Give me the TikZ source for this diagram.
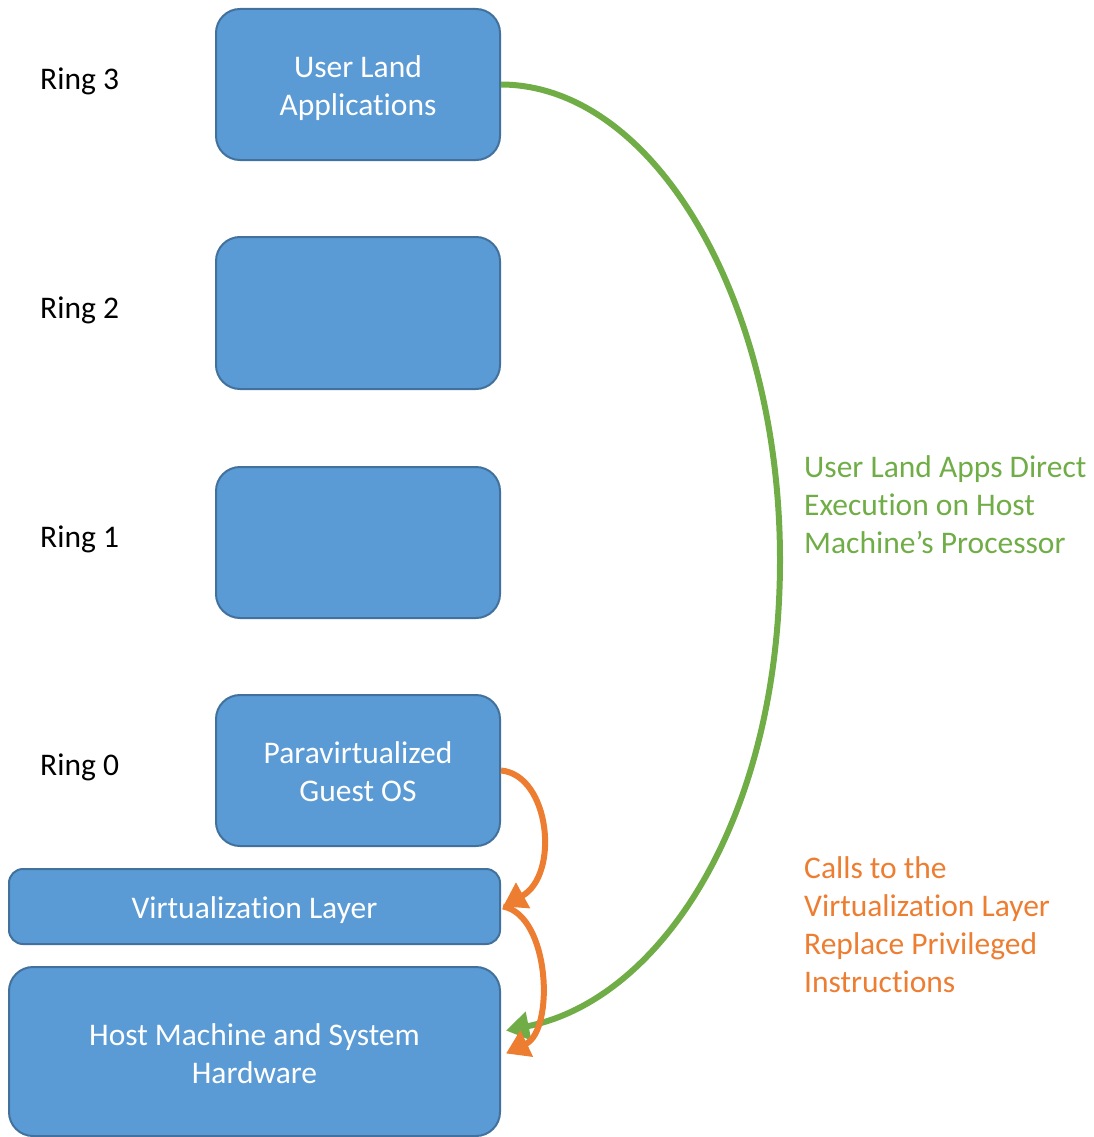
\documentclass[tikz,border=0pt]{standalone}
\usepackage{fontspec}
\setmainfont[Ligatures={NoCommon,NoRequired,NoContextual}]{Carlito}
\usetikzlibrary{arrows.meta,calc}
\definecolor{boxfill}{HTML}{5B9BD5}
\definecolor{boxline}{HTML}{41719C}
\definecolor{appgreen}{HTML}{70AD47}
\definecolor{callorange}{HTML}{ED7D31}
\tikzset{
  ringbox/.style={draw=boxline, line width=2pt, fill=boxfill, rounded corners=24pt, inner sep=0pt},
  boxtext/.style={text=white, align=center, inner sep=0pt, font=\fontsize{31.5}{38}\selectfont},
  ringlabel/.style={anchor=west, inner sep=0pt, font=\fontsize{31.5}{38}\selectfont},
  note/.style={anchor=west, align=left, inner sep=0pt, font=\fontsize{31.5}{38}\selectfont},
  flow/.style={line width=6pt, -{Triangle[length=23pt,width=28pt]}},
}
\begin{document}
\begin{tikzpicture}[x=1pt,y=-1pt]
\useasboundingbox (0,0) rectangle (1093,1137);

% privilege rings
\node[ringbox, minimum width=284pt, minimum height=151pt] (ua) at (358,84.5) {};
\node[ringbox, minimum width=284pt, minimum height=152pt] (r2) at (358,313) {};
\node[ringbox, minimum width=284pt, minimum height=151pt] (r1) at (358,542.5) {};
\node[ringbox, minimum width=284pt, minimum height=151pt] (pv) at (358,770.5) {};

% virtualization and hardware layers
\node[ringbox, rounded corners=14pt, minimum width=491pt, minimum height=75pt] (virt) at (254.5,906.5) {};
\node[ringbox, minimum width=491pt, minimum height=169pt] (host) at (254.5,1051.5) {};

% box captions
\node[boxtext] (ua-t) at ($(ua)+(0,3.5)$) {User Land\\Applications};
\node[boxtext] (pv-t) at ($(pv)+(0,1.5)$) {Paravirtualized\\Guest OS};
\node[boxtext] (virt-t) at ($(virt)+(0,3.5)$) {Virtualization Layer};
\node[boxtext] (host-t) at ($(host)+(0,2.5)$) {Host Machine and System\\Hardware};

% ring labels
\node[ringlabel] (l3) at (40,81) {Ring 3};
\node[ringlabel] (l2) at (40,310) {Ring 2};
\node[ringlabel] (l1) at (40,539) {Ring 1};
\node[ringlabel] (l0) at (40,767) {Ring 0};

% annotations
\node[note, text=appgreen] (gnote) at (804,505) {User Land Apps Direct\\Execution on Host\\Machine’s Processor};
\node[note, text=callorange] (onote) at (804,925) {Calls to the\\Virtualization Layer\\Replace Privileged\\Instructions};

% direct execution path
\coordinate (hostin) at ($(host.east)+(5,-21)$);
\draw[flow, draw=appgreen] (ua.east)
  .. controls (654,85) and (780,300) .. (780,560)
  .. controls (780,820) and (660,1000) .. (hostin);

% hypercall path
\draw[flow, draw=callorange] (pv.east)
  .. controls (550,775) and (560,875) .. ($(virt.east)+(2,0)$);
\draw[flow, draw=callorange] ($(virt.east)+(2,0)$)
  .. controls (550,915) and (555,1030) .. ($(host.east)+(5,2)$);
\end{tikzpicture}
\end{document}
